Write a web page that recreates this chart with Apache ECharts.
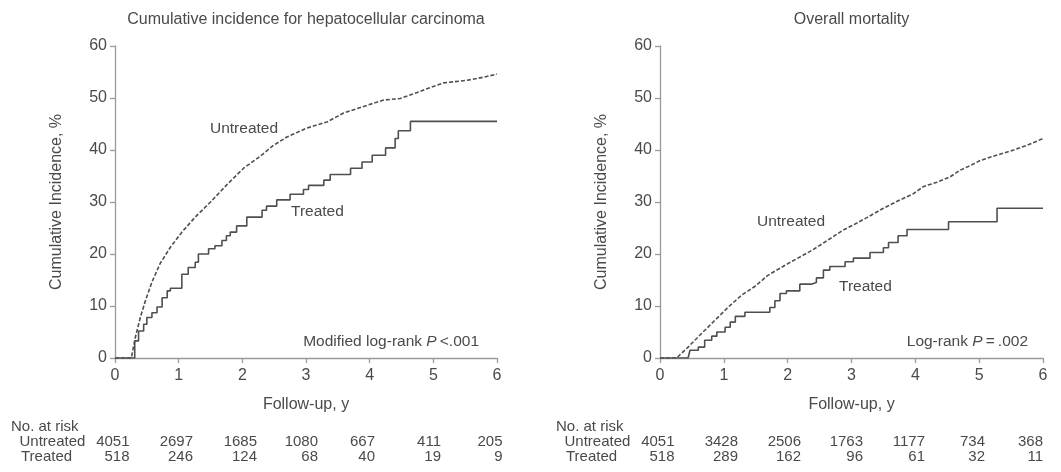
<!DOCTYPE html>
<html>
<head>
<meta charset="utf-8">
<script src="https://cdn.jsdelivr.net/npm/echarts@6/dist/echarts.min.js"></script>
<style>
  html, body { margin: 0; padding: 0; background: #fff; }
  #chart { width: 1061px; height: 472px; }
</style>
</head>
<body>
<div id="chart"></div>
<script>
// Cumulative incidence curves [years, %]
const hccUntreated = [
  [0, 0], [0.256, 0], [0.32, 4.0], [0.40, 7.9], [0.48, 11.1], [0.58, 14.6], [0.71, 18.2],
  [0.87, 21.3], [1.05, 24.2], [1.26, 27.1], [1.50, 30.0], [1.755, 33.3], [2.02, 36.5],
  [2.28, 38.8], [2.49, 40.9], [2.70, 42.5], [3.01, 44.2], [3.33, 45.4], [3.59, 47.1],
  [3.96, 48.6], [4.22, 49.6], [4.48, 49.9], [4.69, 50.8], [4.90, 51.8], [5.16, 52.9],
  [5.53, 53.4], [5.79, 54.0], [6.0, 54.6]
];
const hccTreated = [
  [0, 0], [0.26, 0], [0.31, 3.3], [0.37, 5.2], [0.45, 6.5], [0.50, 7.8], [0.58, 8.7],
  [0.66, 9.8], [0.74, 11.6], [0.82, 12.9], [0.87, 13.4], [1.0, 13.4],
  [1.05, 16.1], [1.15, 17.4], [1.26, 18.4], [1.31, 20.0], [1.47, 21.0], [1.57, 21.6],
  [1.68, 22.6], [1.75, 23.5], [1.81, 24.2], [1.91, 25.4], [2.07, 27.1], [2.31, 28.4],
  [2.38, 29.2], [2.54, 30.4], [2.75, 31.5], [2.96, 32.4], [3.04, 33.2], [3.28, 34.2],
  [3.38, 35.3], [3.70, 36.5], [3.88, 37.7], [4.04, 39.0], [4.25, 40.4], [4.40, 42.2],
  [4.45, 43.7], [4.64, 45.5], [6.0, 45.5]
];
const mortUntreated = [
  [0, 0], [0.26, 0], [0.44, 2.1], [0.65, 4.7], [0.86, 7.25], [1.07, 9.8], [1.28, 12.1],
  [1.49, 13.8], [1.69, 15.9], [2.01, 18.2], [2.38, 20.7], [2.61, 22.5], [2.87, 24.6],
  [3.03, 25.6], [3.24, 27.0], [3.50, 28.8], [3.76, 30.4], [3.97, 31.6], [4.13, 33.0],
  [4.34, 33.8], [4.54, 34.8], [4.70, 36.1], [4.86, 37.0], [5.02, 38.0], [5.22, 38.8],
  [5.49, 39.8], [5.75, 40.9], [6.0, 42.2]
];
const mortTreated = [
  [0, 0], [0.44, 0], [0.47, 1.5], [0.60, 2.1], [0.70, 3.4], [0.81, 4.2], [0.89, 5.0],
  [1.02, 5.9], [1.10, 6.9], [1.18, 8.0], [1.33, 8.8], [1.64, 8.8], [1.72, 9.7],
  [1.80, 11.0], [1.88, 12.4], [1.98, 12.9], [2.19, 14.2], [2.37, 14.5], [2.45, 15.4],
  [2.56, 16.9], [2.66, 17.6], [2.90, 18.5], [3.03, 19.2], [3.29, 20.3], [3.50, 21.2],
  [3.58, 22.2], [3.73, 23.5], [3.87, 24.7], [4.52, 26.2], [5.28, 28.8], [6.0, 28.8]
];

// Numbers at risk at 0..6 years
const riskYears = [0, 1, 2, 3, 4, 5, 6];
const hccRiskUntreated = [4051, 2697, 1685, 1080, 667, 411, 205];
const hccRiskTreated = [518, 246, 124, 68, 40, 19, 9];
const mortRiskUntreated = [4051, 3428, 2506, 1763, 1177, 734, 368];
const mortRiskTreated = [518, 289, 162, 96, 61, 32, 11];

// Panel titles and annotations
const panelTitles = ['Cumulative incidence for hepatocellular carcinoma', 'Overall mortality'];
const pValues = [['Modified log-rank ', 'P', '\u2009<.001'], ['Log-rank ', 'P', '\u2009=\u2009.002']];

const FONT = '"Liberation Sans", Arial, Helvetica, sans-serif';
const TEXT = '#4a4a4a';
const AXIS = '#9a9a9a';
const CURVE = '#4f4f4f';

const chart = echarts.init(document.getElementById('chart'));

const grids = [
  { left: 115, top: 46, width: 382, height: 312 },
  { left: 660, top: 46, width: 383, height: 312 }
];

function xAxis(i) {
  return {
    gridIndex: i, type: 'value', min: 0, max: 6, interval: 1,
    name: 'Follow-up, y', nameLocation: 'middle', nameGap: 39,
    nameTextStyle: { fontFamily: FONT, fontSize: 16, color: TEXT },
    axisLine: { show: true, lineStyle: { color: AXIS, width: 1.3 } },
    axisTick: { show: true, length: 5, inside: false, lineStyle: { color: AXIS, width: 1.3 } },
    axisLabel: { margin: 10, fontFamily: FONT, fontSize: 16, color: TEXT },
    splitLine: { show: false }
  };
}
function yAxis(i) {
  return {
    gridIndex: i, type: 'value', min: 0, max: 60, interval: 10,
    name: 'Cumulative Incidence, %', nameLocation: 'middle', nameGap: 50, nameRotate: 90,
    nameTextStyle: { fontFamily: FONT, fontSize: 16, color: TEXT },
    axisLine: { show: true, lineStyle: { color: AXIS, width: 1.3 } },
    axisTick: { show: true, length: 5, inside: false, lineStyle: { color: AXIS, width: 1.3 } },
    axisLabel: { margin: 8, fontFamily: FONT, fontSize: 16, color: TEXT },
    splitLine: { show: false }
  };
}
function dashed(i, data) {
  return {
    type: 'line', xAxisIndex: i, yAxisIndex: i, data: data, symbol: 'none',
    lineStyle: { color: CURVE, width: 1.6, type: [4, 2] }, z: 3, animation: false
  };
}
function stepped(i, data) {
  return {
    type: 'line', step: 'end', xAxisIndex: i, yAxisIndex: i, data: data, symbol: 'none',
    lineStyle: { color: CURVE, width: 1.6 }, z: 4, animation: false
  };
}

function txt(x, y, s, size, align) {
  return {
    type: 'text', x: x, y: y, silent: true,
    style: { text: s, fill: TEXT, fontFamily: FONT, fontSize: size || 15,
             align: align || 'left', verticalAlign: 'middle' }
  };
}
function pText(x, y, parts) {
  return {
    type: 'text', x: x, y: y, silent: true,
    style: {
      text: '{a|' + parts[0] + '}{i|' + parts[1] + '}{a|' + parts[2] + '}',
      align: 'right', verticalAlign: 'middle',
      rich: {
        a: { fill: TEXT, fontFamily: FONT, fontSize: 15.5 },
        i: { fill: TEXT, fontFamily: FONT, fontSize: 15.5, fontStyle: 'italic' }
      }
    }
  };
}

// right edges of the at-risk columns in each panel
const colRight = [
  [129.5, 193, 257, 318, 375, 441, 502.5],
  [674.5, 738, 801, 863, 925, 985, 1043]
];
const tableLeft = [11, 556];

const graphics = [];
panelTitles.forEach((t, i) => {
  const g = grids[i];
  graphics.push(txt(g.left + g.width / 2, 20, t, 16, 'center'));
});
graphics.push(txt(210, 129, 'Untreated', 15.5));
graphics.push(txt(291, 212, 'Treated', 15.5));
graphics.push(txt(757, 222, 'Untreated', 15.5));
graphics.push(txt(839, 287, 'Treated', 15.5));
graphics.push(pText(479, 342, pValues[0]));
graphics.push(pText(1028, 342, pValues[1]));

[[hccRiskUntreated, hccRiskTreated], [mortRiskUntreated, mortRiskTreated]].forEach((rows, i) => {
  const L = tableLeft[i];
  graphics.push(txt(L, 427, 'No. at risk', 15));
  graphics.push(txt(L + 8.5, 442, 'Untreated', 15));
  graphics.push(txt(L + 10, 457, 'Treated', 15));
  riskYears.forEach((yr, k) => {
    graphics.push(txt(colRight[i][k], 442, String(rows[0][k]), 15, 'right'));
    graphics.push(txt(colRight[i][k], 457, String(rows[1][k]), 15, 'right'));
  });
});

chart.setOption({
  animation: false,
  backgroundColor: '#fff',
  grid: grids,
  xAxis: [xAxis(0), xAxis(1)],
  yAxis: [yAxis(0), yAxis(1)],
  series: [
    dashed(0, hccUntreated), stepped(0, hccTreated),
    dashed(1, mortUntreated), stepped(1, mortTreated)
  ],
  graphic: graphics
});
</script>
</body>
</html>
